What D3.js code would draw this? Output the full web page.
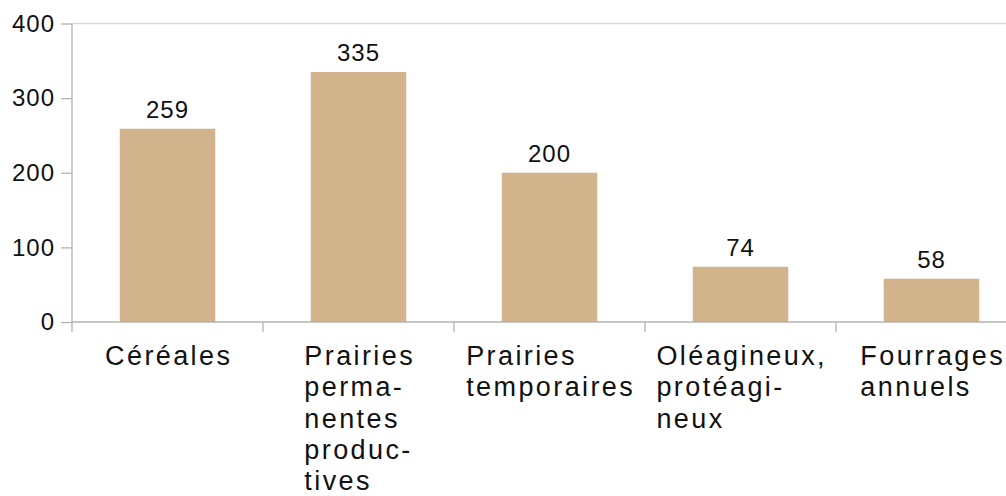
<!DOCTYPE html>
<html>
<head>
<meta charset="utf-8">
<script src="https://cdn.jsdelivr.net/npm/d3@7"></script>
<style>
  html, body { margin: 0; padding: 0; background: #fff; }
  svg { display: block; font-family: "Liberation Sans", Arial, sans-serif; }
</style>
</head>
<body>
<svg id="chart" width="1006" height="496"></svg>
<script>
// Surfaces par type de culture
const categories = ["Céréales", "Prairies permanentes productives", "Prairies temporaires", "Oléagineux, protéagineux", "Fourrages annuels"];
// Lines of each category label, as hyphenated on the axis
const categoryLines = [
  ["Céréales"],
  ["Prairies", "perma-", "nentes", "produc-", "tives"],
  ["Prairies", "temporaires"],
  ["Oléagineux,", "protéagi-", "neux"],
  ["Fourrages", "annuels"]
];
const values = [259, 335, 200, 74, 58];
const yTicks = [0, 100, 200, 300, 400];

const svg = d3.select("#chart");

const x = d3.scaleBand()
  .domain(categories)
  .range([72, 1027])
  .paddingInner(0.5)
  .paddingOuter(0.25);

const y = d3.scaleLinear()
  .domain([0, 400])
  .range([322, 23.5]);

const axisColor = "#b3b3b3";

// top gridline
svg.append("line")
  .attr("x1", 72).attr("x2", 1006)
  .attr("y1", y(400)).attr("y2", y(400))
  .attr("stroke", "#d9d9d9").attr("stroke-width", 1.3);

// bars
svg.selectAll("rect.bar")
  .data(values)
  .join("rect")
  .attr("class", "bar")
  .attr("x", (d, i) => x(categories[i]))
  .attr("width", x.bandwidth())
  .attr("y", d => y(d))
  .attr("height", d => y(0) - y(d))
  .attr("fill", "#d2b48c");

// value labels
svg.selectAll("text.val")
  .data(values)
  .join("text")
  .attr("class", "val")
  .attr("x", (d, i) => x(categories[i]) + x.bandwidth() / 2)
  .attr("y", d => y(d) - 11)
  .attr("text-anchor", "middle")
  .attr("font-size", 24)
  .attr("letter-spacing", 1)
  .attr("fill", "#111")
  .text(d => d);

// y axis
const yAxis = svg.append("g")
  .attr("transform", "translate(72,0)")
  .call(d3.axisLeft(y).tickValues(yTicks).tickSize(11).tickPadding(6).tickFormat(d3.format("d")));
yAxis.select(".domain").remove();
yAxis.selectAll(".tick line").attr("stroke", axisColor).attr("stroke-width", 1.3);
yAxis.selectAll(".tick text")
  .attr("font-size", 24)
  .attr("letter-spacing", 1)
  .attr("font-family", "Liberation Sans, Arial, sans-serif")
  .attr("fill", "#111");

// y axis line, extended down to the x tick length
svg.append("line")
  .attr("x1", 72).attr("x2", 72)
  .attr("y1", y(400)).attr("y2", y(0) + 10)
  .attr("stroke", axisColor).attr("stroke-width", 1.3);

// x axis baseline
svg.append("line")
  .attr("x1", 72).attr("x2", 1006)
  .attr("y1", y(0)).attr("y2", y(0))
  .attr("stroke", axisColor).attr("stroke-width", 1.3);

// x ticks on band boundaries
const step = x.step();
const boundaries = categories.slice(1).map(c => x(c) - step * x.paddingInner() / 2);
svg.selectAll("line.xtick")
  .data(boundaries)
  .join("line")
  .attr("class", "xtick")
  .attr("x1", d => d).attr("x2", d => d)
  .attr("y1", y(0)).attr("y2", y(0) + 10)
  .attr("stroke", axisColor).attr("stroke-width", 1.3);

// category labels: lines left-aligned, block centred on the band
const fontSize = 27, lineH = 31.3, ls = 2.4;
categories.forEach((c, i) => {
  const g = svg.append("g");
  const t = g.append("text")
    .attr("font-size", fontSize)
    .attr("letter-spacing", ls)
    .attr("fill", "#111");
  categoryLines[i].forEach((line, j) => {
    t.append("tspan").attr("x", 0).attr("y", 365 + j * lineH).text(line);
  });
  const bb = t.node().getBBox();
  const w = bb.width - ls;
  const cx = x(c) + x.bandwidth() / 2;
  g.attr("transform", `translate(${cx - w / 2},0)`);
});
</script>
</body>
</html>
